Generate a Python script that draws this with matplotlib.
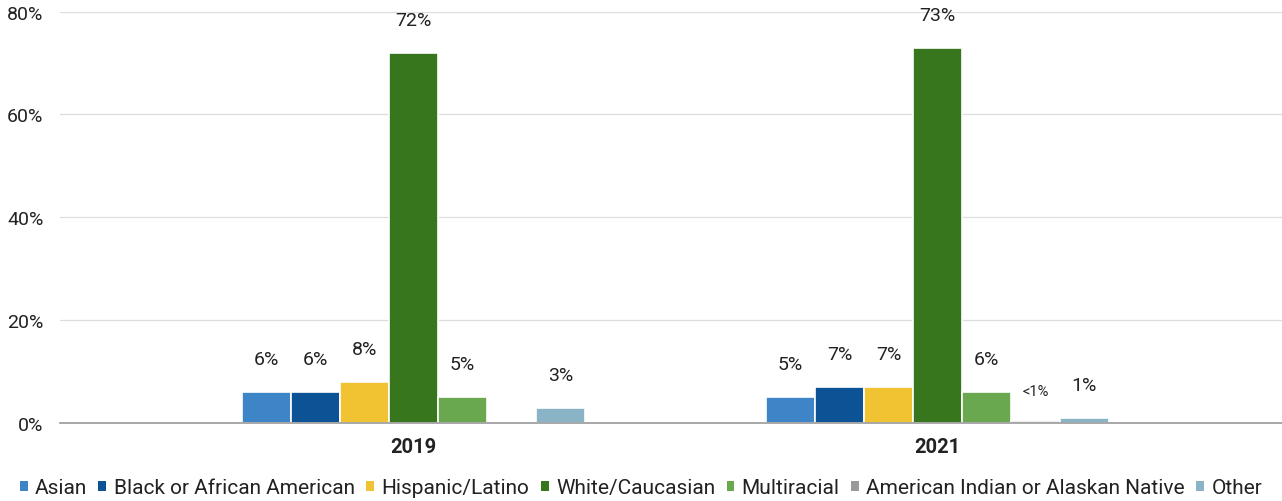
import numpy as np
import matplotlib.pyplot as plt
from matplotlib.patches import Patch

years = ['2019', '2021']
groups = ['Asian', 'Black or African American', 'Hispanic/Latino', 'White/Caucasian',
          'Multiracial', 'American Indian or Alaskan Native', 'Other']
values = {
    'Asian': [6, 5],
    'Black or African American': [6, 7],
    'Hispanic/Latino': [8, 7],
    'White/Caucasian': [72, 73],
    'Multiracial': [5, 6],
    'American Indian or Alaskan Native': [0, 0.4],
    'Other': [3, 1],
}
value_labels = {
    'Asian': ['6%', '5%'],
    'Black or African American': ['6%', '7%'],
    'Hispanic/Latino': ['8%', '7%'],
    'White/Caucasian': ['72%', '73%'],
    'Multiracial': ['5%', '6%'],
    'American Indian or Alaskan Native': ['', '<1%'],
    'Other': ['3%', '1%'],
}
colors = ['#3d85c6', '#0b5394', '#f1c232', '#38761d', '#6aa84f', '#999999', '#8ab3c6']
y_ticks = [0, 20, 40, 60, 80]

plt.rcParams['font.family'] = ['Roboto', 'DejaVu Sans']

fig = plt.figure(figsize=(12.82, 5.02), dpi=100)
ax = fig.add_axes([0.047, 0.155, 0.953, 0.82])

x = np.arange(len(years))
slot = 0.0935
for i, (g, c) in enumerate(zip(groups, colors)):
    offs = (i - 3) * slot
    bars = ax.bar(x + offs, values[g], width=slot, color=c, edgecolor='white', linewidth=1.2, zorder=3)
    for b, v, lab in zip(bars, values[g], value_labels[g]):
        if not lab:
            continue
        small = lab.startswith('<')
        ax.annotate(lab, (b.get_x() + b.get_width() / 2, v), xytext=(0, 33 if not small else 30),
                    textcoords='offset pixels', ha='center', va='center',
                    fontsize=10.5 if small else 14, color='#222222')

ax.set_xlim(-0.675, 1.658)
ax.set_ylim(0, 80)
ax.set_yticks(y_ticks)
ax.set_yticklabels([f'{t}%' for t in y_ticks], fontsize=14, color='#222222')
ax.set_xticks(x)
ax.set_xticklabels(years, fontsize=14.5, fontweight='bold', color='#222222')
ax.tick_params(axis='both', length=0, pad=10)
ax.tick_params(axis='y', pad=12)
ax.grid(axis='y', color='#dddddd', linewidth=0.9, zorder=0)
for s in ['top', 'right', 'left']:
    ax.spines[s].set_visible(False)
ax.spines['bottom'].set_color('#999999')
ax.spines['bottom'].set_linewidth(1.2)
ax.spines['bottom'].set_zorder(4)

handles = [Patch(facecolor=c, label=g) for g, c in zip(groups, colors)]
fig.legend(handles=handles, loc='lower center', bbox_to_anchor=(0.5, -0.03), ncol=7,
           frameon=False, handlelength=0.38, handleheight=0.38, handletextpad=0.35,
           columnspacing=0.55, prop={'size': 15}, labelcolor='#222222')

fig.savefig('out.png', dpi=100)
